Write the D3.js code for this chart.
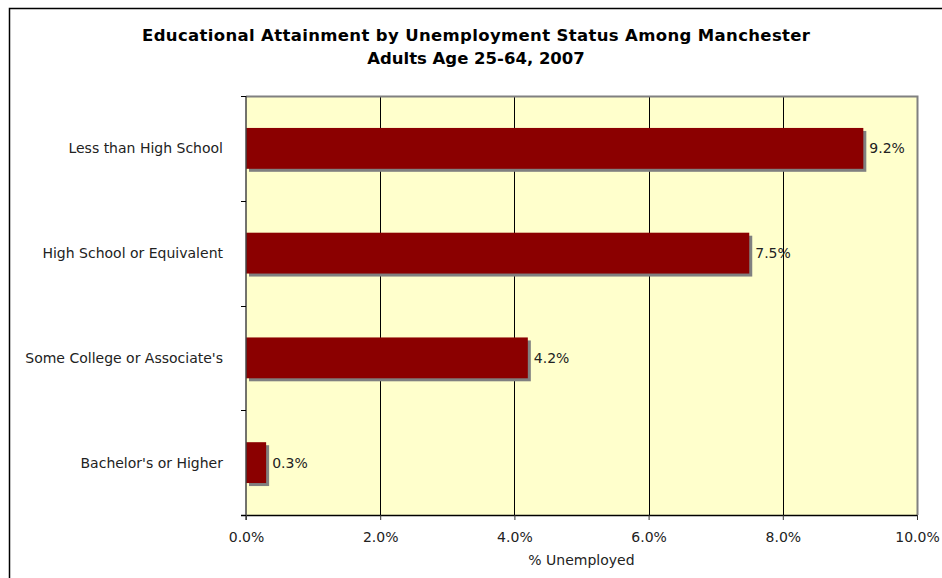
<!DOCTYPE html>
<html><head><meta charset="utf-8">
<script src="https://cdn.jsdelivr.net/npm/d3@7"></script>
<style>body{margin:0;background:#fff}svg{display:block}</style>
</head><body>
<script>
const categories = ["Less than High School","High School or Equivalent","Some College or Associate's","Bachelor's or Higher"];
const values = [0.092, 0.075, 0.042, 0.003];
const valueLabels = ["9.2%","7.5%","4.2%","0.3%"];
const xTicks = [0,0.02,0.04,0.06,0.08,0.10];
const titleLines = ["Educational Attainment by Unemployment Status Among Manchester","Adults Age 25-64, 2007"];
const xTitle = "% Unemployed";

const W=942,H=578;
const svg=d3.select("body").append("svg").attr("width",W).attr("height",H);
const font="Verdana, 'DejaVu Sans', sans-serif";
const fs=14;

// outer chart border
svg.append("rect").attr("x",9.5).attr("y",8.5).attr("width",W+20).attr("height",H+20)
  .attr("fill","#fff").attr("stroke","#000").attr("stroke-width",1.5);

const L=246,R=917,T=96,B=515;
const x=d3.scaleLinear().domain([0,0.10]).range([L,R]);
const y=d3.scaleBand().domain(categories).range([T,B]).paddingInner(0.61).paddingOuter(0.305);
const yb=d3.scaleBand().domain(categories).range([T,B]);

svg.append("rect").attr("x",L).attr("y",T).attr("width",R-L).attr("height",B-T).attr("fill","#FFFFCC");
// gridlines
svg.append("g").selectAll("line").data(xTicks.slice(1,-1)).join("line")
  .attr("x1",d=>Math.round(x(d))+0.5).attr("x2",d=>Math.round(x(d))+0.5).attr("y1",T).attr("y2",B)
  .attr("stroke","#000").attr("stroke-width",1);
// plot border top/right gray
svg.append("path").attr("d",`M${L},${T+0.5}H${R+0.5}V${B}`).attr("fill","none").attr("stroke","#808080").attr("stroke-width",2);

// shadows
svg.append("g").selectAll("rect").data(values).join("rect")
  .attr("x",L+3).attr("y",(d,i)=>y(categories[i])+3)
  .attr("width",d=>x(d)-L).attr("height",y.bandwidth()).attr("fill","#808080");
// bars
svg.append("g").selectAll("rect").data(values).join("rect")
  .attr("x",L).attr("y",(d,i)=>y(categories[i]))
  .attr("width",d=>x(d)-L).attr("height",y.bandwidth()).attr("fill","#8B0000");
// value labels
svg.append("g").selectAll("text").data(values).join("text")
  .attr("x",d=>x(d)+6).attr("y",(d,i)=>y(categories[i])+y.bandwidth()/2).attr("dy","0.35em")
  .attr("font-family",font).attr("font-size",fs).attr("fill","#222").text((d,i)=>valueLabels[i]);

// x axis
const xa=svg.append("g").attr("transform",`translate(0,${B})`)
  .call(d3.axisBottom(x).tickValues(xTicks).tickFormat(d3.format(".1%")).tickSize(5).tickSizeOuter(0));
xa.select(".domain").attr("d",`M${L-5},0.5H${R}`).attr("stroke","#000").attr("stroke-width",1.5);
xa.selectAll(".tick line").attr("stroke","#333");
xa.selectAll("text").attr("font-family",font).attr("font-size",fs).attr("fill","#222").attr("y",0).attr("dy",0)
  .attr("transform","translate(0,27)");

// y axis
const ya=svg.append("g").attr("transform",`translate(${L},0)`);
ya.append("line").attr("x1",0).attr("x2",0).attr("y1",T).attr("y2",B+5).attr("stroke","#444").attr("stroke-width",1.5);
const yTickPos=categories.map(c=>yb(c)).concat([B]);
ya.selectAll("line.t").data(yTickPos).join("line").attr("class","t")
  .attr("x1",-5).attr("x2",0).attr("y1",d=>Math.round(d)+0.5).attr("y2",d=>Math.round(d)+0.5).attr("stroke","#000");
ya.selectAll("text").data(categories).join("text")
  .attr("x",-23).attr("y",c=>yb(c)+yb.bandwidth()/2).attr("dy","0.35em").attr("text-anchor","end")
  .attr("font-family",font).attr("font-size",fs).attr("fill","#222").text(c=>c);

// x title
svg.append("text").attr("x",(L+R)/2).attr("y",565).attr("text-anchor","middle")
  .attr("font-family",font).attr("font-size",fs).attr("fill","#222").text(xTitle);

// title
const tt=svg.append("g").selectAll("text").data(titleLines).join("text")
  .attr("x",476).attr("y",(d,i)=>41+i*23).attr("text-anchor","middle")
  .attr("font-family","'DejaVu Sans', sans-serif").attr("font-weight","bold").attr("font-size",16.5)
  .attr("fill","#000").text(d=>d);
tt.filter((d,i)=>i===0).attr("textLength",668).attr("lengthAdjust","spacing");
</script>
</body></html>
